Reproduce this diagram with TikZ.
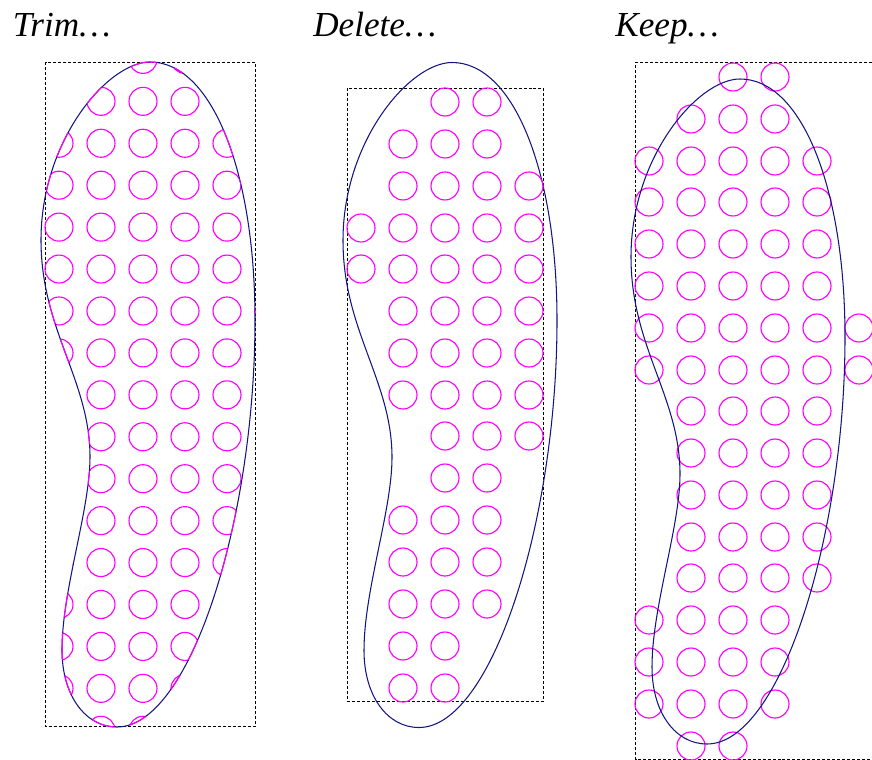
\documentclass[tikz,border=0pt]{standalone}
\usepackage{fontspec}
\setmainfont{Liberation Serif}
\usepackage{tikz}
\definecolor{solenavy}{RGB}{20,20,130}
\definecolor{holepink}{RGB}{255,0,255}
% outline of the sole, in pixels of the first panel
\newcommand{\solepath}{(150,62) .. controls (212,62) and (255,172) .. (255,320)
    .. controls (255,520) and (190,727) .. (117,727)
    .. controls (85,727) and (62,695) .. (62,650)
    .. controls (62,590) and (90,510) .. (90,457)
    .. controls (90,380) and (41,330) .. (41,240)
    .. controls (41,140) and (108,62) .. (150,62) -- cycle}
\begin{document}
\begin{tikzpicture}[x=0.02cm, y=-0.02cm,
    title/.style={anchor=base west, inner sep=0pt, font=\fontsize{20}{24}\selectfont\itshape},
    frame/.style={draw=black, line width=0.6pt, dash pattern=on 1.7pt off 1.134pt},
    sole/.style={draw=solenavy, line width=0.6pt},
    hole/.style={draw=holepink, line width=0.65pt}
]
    \useasboundingbox (0,0) rectangle (872,760);

    \node[title] (trim) at (12.5,37) {Trim…};
    \node[title] (delete) at (313,37) {Delete…};
    \node[title] (keep) at (615,37) {Keep…};

    % Trim
    \draw[frame] (45.5,62.5) rectangle (255.5,726.5);
    \begin{scope}
        \clip \solepath;
        \foreach \row in {0,...,16}
            \foreach \x in {59,101,143,185,227,269}
                \draw[hole] (\x,59.4+41.93*\row) circle (14);
    \end{scope}
    \draw[sole] \solepath;
    \begin{scope}
        \clip \foreach \row in {0,...,16} {\foreach \x in {59,101,143,185,227,269} {(\x,59.4+41.93*\row) circle (14)}};
        \draw[hole] \solepath;
    \end{scope}

    % Delete
    \draw[frame] (347.5,88.5) rectangle (543.5,701.5);
    \draw[sole, shift={(302,0.5)}] \solepath;
    \foreach \y/\xs in {102/{445,487}, 144/{403,445,487}, 186/{403,445,487,529},
        228/{361,403,445,487,529}, 269/{361,403,445,487,529}, 311/{403,445,487,529},
        353/{403,445,487,529}, 395/{403,445,487,529}, 436/{445,487,529}, 478/{445,487},
        520/{403,445,487}, 562/{403,445,487}, 604/{403,445,487}, 646/{403,445}, 688/{403,445}}
        \foreach \x in \xs
            \draw[hole] (\x,\y) circle (14);

    % Keep
    \coordinate (keepne) at (872,62.5);
    \coordinate (keepnw) at (635.5,62.5);
    \coordinate (keepsw) at (635.5,759.5);
    \coordinate (keepse) at (872,759.5);
    \draw[frame] (keepne) -- (keepnw) -- (keepsw) -- (keepse);
    \foreach \y/\xs in {77/{733,775}, 119/{691,733,775}, 161/{649,691,733,775,817},
        202/{649,691,733,775,817}, 244/{649,691,733,775,817}, 286/{649,691,733,775,817},
        328/{649,691,733,775,817,859}, 370/{649,691,733,775,817,859}, 411/{691,733,775,817},
        453/{691,733,775,817}, 495/{691,733,775,817}, 537/{691,733,775,817}, 578/{691,733,775,817},
        620/{649,691,733,775}, 662/{649,691,733,775}, 704/{649,691,733,775}, 746/{691,733}}
        \foreach \x in \xs
            \draw[hole] (\x,\y) circle (14);
    \draw[sole, shift={(590,17)}] \solepath;
\end{tikzpicture}
\end{document}
